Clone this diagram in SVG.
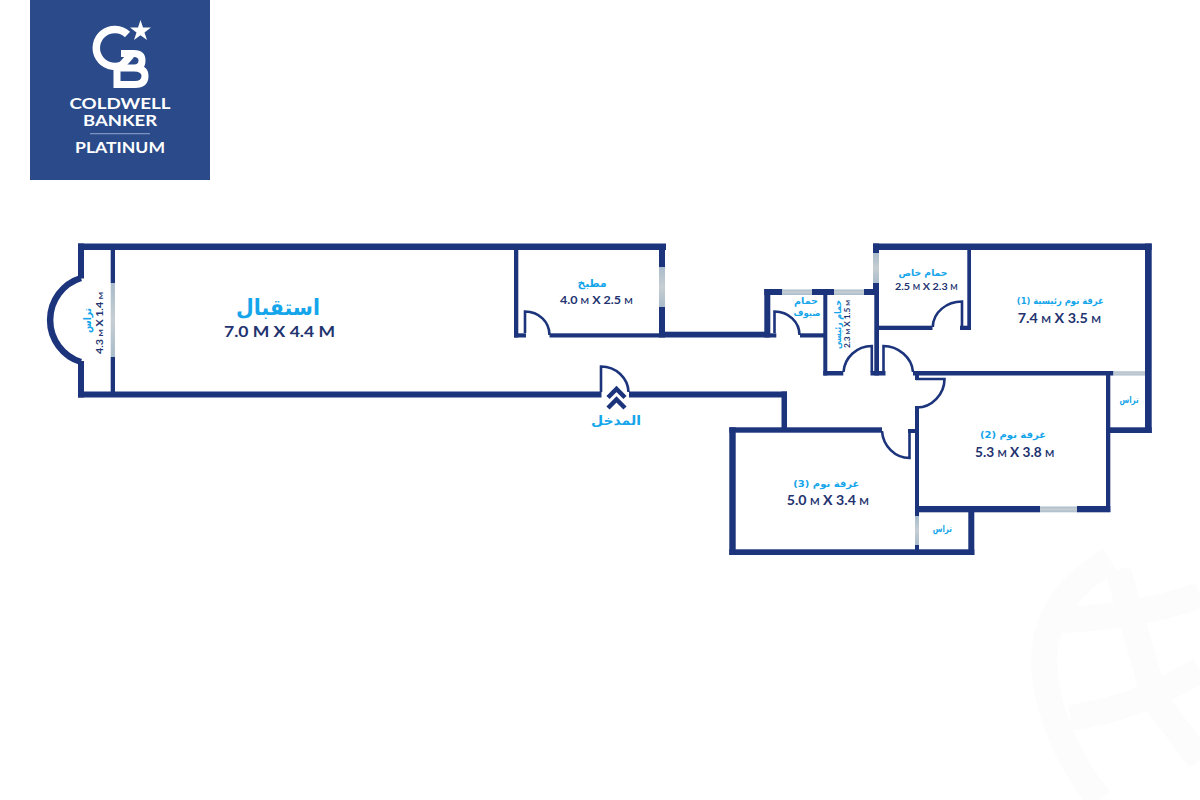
<svg xmlns="http://www.w3.org/2000/svg" width="1200" height="800" viewBox="0 0 1200 800">
<defs>
<linearGradient id="win" x1="0" y1="0" x2="0" y2="1"><stop offset="0" stop-color="#a9bccb"/><stop offset="0.5" stop-color="#c6ced2"/><stop offset="1" stop-color="#a9bccb"/></linearGradient>
</defs>
<style>
.w{fill:#1c347c}
.g{fill:url(#win)}
.d{fill:none;stroke:#1c347c;stroke-width:2.6}
.ar{font-family:"DejaVu Sans",sans-serif;font-weight:700;fill:#14a5ea;text-anchor:middle;direction:rtl}
.dim{font-family:"Lato","Liberation Sans",sans-serif;font-weight:700;fill:#22336f;text-anchor:start}
.m{font-size:.72em}
.lg{font-family:"Lato","Liberation Sans",sans-serif;font-weight:700;fill:#fff}
</style>
<g id="watermark" fill="none" stroke="#fcfcfc" stroke-width="26">
<path d="M1110 560C1060 590 1035 630 1047 690C1055 730 1075 770 1100 800"/>
<path d="M1062 620C1110 618 1160 610 1200 595"/>
<path d="M1070 718C1110 712 1150 700 1200 670"/>
<path d="M1118 570L1155 700L1200 760"/>
</g>
<g id="logo">
<rect x="30" y="0" width="180" height="180" fill="#2a4a8a"/>
<path d="M127.500 34.500A18.500 18.500 0 1 0 122 65L131 55" fill="none" stroke="#fff" stroke-width="7.500"/>
<path d="M117 84.500V66M121 53.500H134Q142 53.500 142 60.500Q142 68 134 68H117M134 68Q145 68 145 76Q145 84.500 135 84.500H113.500" fill="none" stroke="#fff" stroke-width="7"/>
<polygon points="140.500,20 143,27.500 151,27.500 144.500,32.500 147,40 140.500,35.300 134,40 136.500,32.500 130,27.500 138,27.500" fill="#fff"/>
<text class="lg" x="69.500" y="109" font-size="16" textLength="101" lengthAdjust="spacingAndGlyphs">COLDWELL</text>
<text class="lg" x="83" y="126" font-size="16" textLength="74" lengthAdjust="spacingAndGlyphs">BANKER</text>
<rect x="90" y="133" width="60" height="1.300" fill="#7d93bf"/>
<text class="lg" x="75" y="152.500" font-size="16" textLength="90" lengthAdjust="spacingAndGlyphs">PLATINUM</text>
</g>
<g id="walls">
<rect class="w" x="78" y="243.500" width="588" height="6.500"/>
<rect class="w" x="78" y="243.500" width="6" height="35"/>
<rect class="w" x="78" y="361" width="6" height="36.500"/>
<path d="M81 278A44 44 0 0 0 81 362" fill="none" stroke="#1c347c" stroke-width="6.500"/>
<rect class="w" x="110.700" y="250" width="4.300" height="33"/>
<rect class="g" x="110.700" y="283" width="4.300" height="74"/>
<rect class="w" x="110.700" y="357" width="4.300" height="35"/>
<rect class="w" x="78" y="391.500" width="523.500" height="6"/>
<rect class="w" x="629" y="391.500" width="158" height="6"/>
<rect class="w" x="781.500" y="391.500" width="5.500" height="40"/>
<rect class="w" x="514" y="250" width="4.300" height="87.500"/>
<rect class="w" x="514" y="333.300" width="12" height="4.200"/>
<rect class="w" x="549.500" y="333.300" width="110" height="4.200"/>
<rect class="w" x="659" y="250" width="6" height="17"/>
<rect class="g" x="659" y="267" width="6" height="40"/>
<rect class="w" x="659" y="307" width="6" height="30.500"/>
<rect class="w" x="659" y="331.700" width="111" height="5.800"/>
<rect class="w" x="764.300" y="289" width="6" height="48"/>
<rect class="w" x="764.300" y="289" width="18" height="6"/>
<rect class="g" x="782.300" y="289.500" width="30" height="5.500"/>
<rect class="w" x="812" y="289" width="22" height="6"/>
<rect class="g" x="834" y="289.500" width="30" height="5.500"/>
<rect class="w" x="864" y="289" width="15" height="6"/>
<rect class="w" x="764.300" y="333.300" width="12" height="4.200"/>
<rect class="w" x="800" y="333.300" width="24" height="4.200"/>
<rect class="w" x="823.300" y="289" width="4" height="86.500"/>
<rect class="w" x="823.300" y="371" width="20" height="4.500"/>
<rect class="w" x="870.500" y="371" width="15" height="4.500"/>
<rect class="w" x="873" y="243.500" width="6" height="9.500"/>
<rect class="g" x="873" y="253" width="6" height="30"/>
<rect class="w" x="873" y="283" width="6" height="12"/>
<rect class="w" x="874.300" y="295" width="4.700" height="80.500"/>
<rect class="w" x="873" y="243.500" width="278.700" height="6.500"/>
<rect class="w" x="879" y="325.700" width="53.500" height="4.300"/>
<rect class="w" x="960" y="325.700" width="11" height="4.300"/>
<rect class="w" x="967.300" y="250" width="3.700" height="80"/>
<rect class="w" x="913" y="371" width="200.500" height="4.500"/>
<rect class="g" x="1113.500" y="371.300" width="31.500" height="4.200"/>
<rect class="w" x="1145" y="243.500" width="6.700" height="189.500"/>
<rect class="w" x="1106" y="427.300" width="45.700" height="5.700"/>
<rect class="w" x="1106" y="375" width="4.300" height="137"/>
<rect class="w" x="915" y="375" width="4" height="5"/>
<rect class="w" x="915" y="406" width="4" height="110"/>
<rect class="w" x="915" y="506" width="125" height="6.300"/>
<rect class="g" x="1040" y="506.500" width="37" height="5.800"/>
<rect class="w" x="1077" y="506" width="33.300" height="6.300"/>
<rect class="w" x="968.300" y="512" width="6" height="43"/>
<rect class="w" x="729.300" y="549.300" width="245" height="5.700"/>
<rect class="w" x="729.300" y="427.300" width="6.400" height="127.700"/>
<rect class="w" x="729.300" y="427.300" width="152.700" height="5.400"/>
<rect class="w" x="908" y="429" width="7" height="4"/>
<rect class="g" x="915" y="516" width="4" height="29"/>
<rect class="w" x="915" y="545" width="4" height="5"/>
</g>
<g id="doors">
<path class="d" d="M525 333V311.500C539 311.500 549.500 322 549.500 335"/>
<path class="d" d="M774.500 333V311.500C788.500 311.500 799.500 322 799.500 335"/>
<path class="d" d="M601 392V366.500C616 366.500 628 378 628.500 392"/>
<path class="d" d="M871.800 372V346C857 346 844.500 357.500 843.500 372"/>
<path class="d" d="M883.500 372V346C898 346 912 357.500 913 372"/>
<path class="d" d="M916 379H944.500C944.500 394 932 407.500 917 407.500"/>
<path class="d" d="M962 326V301.500C947 301.500 933 312 932.800 327"/>
<path class="d" d="M909.500 431V458C895 458 883 446 882 431"/>
<path d="M608 397.500L616.500 389L625 397.500M608 408L616.500 399.500L625 408" fill="none" stroke="#1c347c" stroke-width="4.500"/>
</g>
<g id="terrace-left">
<text class="ar" font-size="11" transform="translate(91 320.500) rotate(-90)" textLength="25" lengthAdjust="spacingAndGlyphs">تراس</text>
<text class="dim" font-size="8.500" transform="translate(103.300 354) rotate(-90)" textLength="62" lengthAdjust="spacingAndGlyphs">4.3 <tspan class="m">M</tspan> X 1.4 <tspan class="m">M</tspan></text>
</g>
<g id="reception">
<text class="ar" x="278" y="315" font-size="22" textLength="84" lengthAdjust="spacingAndGlyphs">استقبال</text>
<text class="dim" x="224" y="337.300" font-size="16" textLength="111" lengthAdjust="spacingAndGlyphs">7.0 M X 4.4 M</text>
</g>
<g id="kitchen">
<text class="ar" x="592" y="286.700" font-size="11" textLength="29" lengthAdjust="spacingAndGlyphs">مطبخ</text>
<text class="dim" x="560" y="304.300" font-size="11" textLength="72.700" lengthAdjust="spacingAndGlyphs">4.0 <tspan class="m">M</tspan> X 2.5 <tspan class="m">M</tspan></text>
</g>
<g id="guest-bath">
<text class="ar" x="806" y="304" font-size="9" textLength="24" lengthAdjust="spacingAndGlyphs">حمام</text>
<text class="ar" x="807" y="315.700" font-size="9" textLength="27" lengthAdjust="spacingAndGlyphs">ضيوف</text>
</g>
<g id="main-bath">
<text class="ar" font-size="9" transform="translate(841 324.500) rotate(-90)" textLength="49" lengthAdjust="spacingAndGlyphs">حمام رئيسى</text>
<text class="dim" font-size="8" transform="translate(850 348) rotate(-90)" textLength="48" lengthAdjust="spacingAndGlyphs">2.3 <tspan class="m">M</tspan> X 1.5 <tspan class="m">M</tspan></text>
</g>
<g id="private-bath">
<text class="ar" x="923" y="275.700" font-size="9.500" textLength="49" lengthAdjust="spacingAndGlyphs">حمام خاص</text>
<text class="dim" x="895" y="290" font-size="10" textLength="62.700" lengthAdjust="spacingAndGlyphs">2.5 <tspan class="m">M</tspan> X 2.3 <tspan class="m">M</tspan></text>
</g>
<g id="master-bedroom">
<text class="ar" x="1060.300" y="304" font-size="9.500" textLength="87" lengthAdjust="spacingAndGlyphs">غرفة نوم رئيسية (1)</text>
<text class="dim" x="1017.700" y="323.300" font-size="13" textLength="83.300" lengthAdjust="spacingAndGlyphs">7.4 <tspan class="m">M</tspan> X 3.5 <tspan class="m">M</tspan></text>
</g>
<g id="terrace-right">
<text class="ar" x="1129" y="403" font-size="9.500" textLength="19" lengthAdjust="spacingAndGlyphs">تراس</text>
</g>
<g id="bedroom-2">
<text class="ar" x="1013" y="438" font-size="9.500" textLength="66" lengthAdjust="spacingAndGlyphs">غرفة نوم (2)</text>
<text class="dim" x="975" y="456.700" font-size="13" textLength="79.300" lengthAdjust="spacingAndGlyphs">5.3 <tspan class="m">M</tspan> X 3.8 <tspan class="m">M</tspan></text>
</g>
<g id="bedroom-3">
<text class="ar" x="826.300" y="486.700" font-size="9.500" textLength="66" lengthAdjust="spacingAndGlyphs">غرفة نوم (3)</text>
<text class="dim" x="786.700" y="505" font-size="13" textLength="82.300" lengthAdjust="spacingAndGlyphs">5.0 <tspan class="m">M</tspan> X 3.4 <tspan class="m">M</tspan></text>
</g>
<g id="terrace-bottom">
<text class="ar" x="942.300" y="531.700" font-size="9.500" textLength="19" lengthAdjust="spacingAndGlyphs">تراس</text>
</g>
<g id="entrance">
<text class="ar" x="616" y="425" font-size="13" textLength="50" lengthAdjust="spacingAndGlyphs">المدخل</text>
</g>
</svg>
